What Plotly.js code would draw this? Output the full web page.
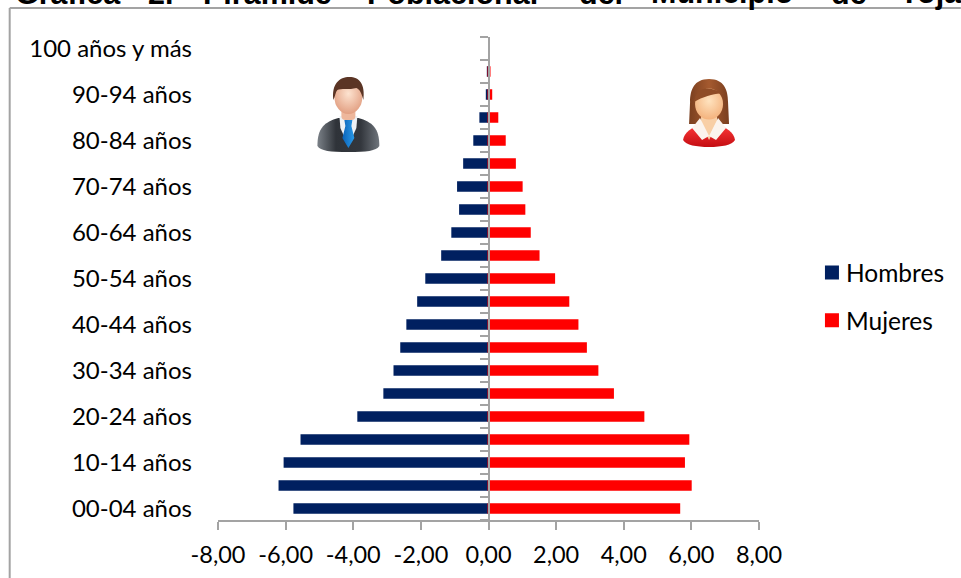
<!DOCTYPE html>
<html><head><meta charset="utf-8">
<script src="https://cdn.plot.ly/plotly-3.0.1.min.js"></script>
<style>html,body{margin:0;padding:0;background:#fff;overflow:hidden}
.legend .legendpoints{transform:translate(6px,0)}</style>
</head><body><div id="chart" style="width:961px;height:578px"></div>
<script>
const ages = ["00-04 años","05-09 años","10-14 años","15-19 años","20-24 años","25-29 años","30-34 años","35-39 años","40-44 años","45-49 años","50-54 años","55-59 años","60-64 años","65-69 años","70-74 años","75-79 años","80-84 años","85-89 años","90-94 años","95-99 años","100 años y más"];
const hombres = [-5.74,-6.18,-6.03,-5.53,-3.85,-3.08,-2.78,-2.58,-2.40,-2.08,-1.84,-1.37,-1.07,-0.84,-0.90,-0.72,-0.42,-0.24,-0.05,-0.02,null];
const mujeres = [5.64,5.98,5.78,5.91,4.58,3.68,3.22,2.88,2.63,2.36,1.94,1.48,1.22,1.06,0.98,0.78,0.48,0.26,0.08,0.03,null];
const yLabels = ["00-04 años","10-14 años","20-24 años","30-34 años","40-44 años","50-54 años","60-64 años","70-74 años","80-84 años","90-94 años","100 años y más"];
const xTickVals = [-8,-6,-4,-2,0,2,4,6,8];
const xTickText = ["-8,00","-6,00","-4,00","-2,00","0,00","2,00","4,00","6,00","8,00"];
const titleWords = ["Gráfica","2.","Pirámide","Poblacional","del","Municipio","de","Yoja"];
const titleLefts = [13,146,201,366,578,650,830,898];

const W=961,H=578,L=217.5,R=759,T=37,B=520;
const px=x=>(x-L)/(R-L), py=y=>(B-y)/(B-T);
const FONT='Lato, Carlito, sans-serif', GRAY='#a3a3a3';

const manSvg=`<svg xmlns="http://www.w3.org/2000/svg" viewBox="0 0 64 77" width="256" height="308"><defs>
<linearGradient id="s" x1="0" x2="1"><stop offset="0" stop-color="#7b8188"/><stop offset=".3" stop-color="#2f3339"/><stop offset=".7" stop-color="#33373d"/><stop offset="1" stop-color="#6f757c"/></linearGradient>
<radialGradient id="f" cx=".5" cy=".4" r=".65"><stop offset="0" stop-color="#fde3d0"/><stop offset="1" stop-color="#e09a7c"/></radialGradient>
<linearGradient id="t" x1="0" x2="1"><stop offset="0" stop-color="#0b63b8"/><stop offset="1" stop-color="#2a9ae8"/></linearGradient></defs>
<path d="M1 70 C1 52 8 46 22 42 L42 42 C56 46 63 52 63 70 C60 75 50 76 32 76 C14 76 4 75 1 70Z" fill="url(#s)"/>
<path d="M23 40 L41 40 L40 52 L32 70 L24 52Z" fill="#eef1f4"/>
<rect x="25" y="30" width="14" height="14" rx="4" fill="#eeb79c"/>
<path d="M28 44 L36 44 L35 50 L38 62 L32 72 L26 62 L29 50Z" fill="url(#t)"/>
<ellipse cx="32" cy="21" rx="14" ry="17" fill="url(#f)"/>
<path d="M17 24 C15 8 23 1 33 1 C43 1 49 8 47 24 C45 17 44 14 40 12 C33 14 24 12 21 14 C19 16 19 20 17 24Z" fill="#5b3525"/></svg>`;
const womanSvg=`<svg xmlns="http://www.w3.org/2000/svg" viewBox="0 0 54 70" width="216" height="280"><defs>
<radialGradient id="f" cx=".5" cy=".4" r=".7"><stop offset="0" stop-color="#ffe3bf"/><stop offset="1" stop-color="#f2ab73"/></radialGradient>
<linearGradient id="r" x1="0" y1="0" x2="0" y2="1"><stop offset="0" stop-color="#ff3a3a"/><stop offset="1" stop-color="#c40d12"/></linearGradient>
<linearGradient id="h" x1="0" x2="1"><stop offset="0" stop-color="#7a3f1f"/><stop offset=".5" stop-color="#a55a2f"/><stop offset="1" stop-color="#7a3f1f"/></linearGradient></defs>
<path d="M27 1 C12 1 8 12 8 24 L7 46 L47 46 L46 24 C46 12 42 1 27 1Z" fill="url(#h)"/>
<path d="M1 62 C2 54 10 50 18 46 L36 46 C44 50 52 54 53 62 C50 67 40 69 27 69 C14 69 4 67 1 62Z" fill="url(#r)"/>
<path d="M19 34 L35 34 L35 46 L27 62 L19 46Z" fill="#f8cfa6"/>
<path d="M18 40 L27 58 L20 62 L10 50Z M36 40 L27 58 L34 62 L44 50Z" fill="#fbf4ee"/>
<ellipse cx="27" cy="26" rx="14" ry="15.5" fill="url(#f)"/>
<path d="M12 24 C14 10 24 6 42 16 C36 14 22 18 12 24Z" fill="#8f4c26"/></svg>`;
const uri=s=>'data:image/svg+xml;charset=utf-8,'+encodeURIComponent(s);

const bar=(name,x,color)=>({type:'bar',orientation:'h',name,x,y:ages,
  marker:{color,line:{color,width:2}},hoverinfo:'skip',legendgroup:name});
const traces=[bar('Hombres',hombres,'#002060'),bar('Mujeres',mujeres,'#ff0000'),
  {type:'scatter',x:[null],y:[null],yaxis:'y2',showlegend:false,hoverinfo:'skip'}];

const layout={
  width:W,height:H,autosize:false,paper_bgcolor:'#fff',plot_bgcolor:'#fff',
  margin:{l:L,r:W-R,t:T,b:H-B,pad:0,autoexpand:false},
  barmode:'overlay',bargap:0.63,separators:',.',
  font:{family:FONT,size:24,color:'#000'},
  xaxis:{range:[-8,8],tickmode:'array',tickvals:xTickVals,ticktext:xTickText,ticks:'outside',ticklen:8,tickwidth:2,tickcolor:GRAY,
    showline:true,linecolor:GRAY,linewidth:2,showgrid:false,zeroline:false,fixedrange:true,ticklabelstandoff:5,tickfont:{family:FONT,size:23.5,color:'#000'}},
  yaxis:{type:'category',categoryorder:'array',categoryarray:ages,range:[-0.5,20.5],tickmode:'array',tickvals:yLabels,ticktext:yLabels,
    ticks:'',showline:false,showgrid:false,zeroline:false,fixedrange:true,ticklabelstandoff:25,tickfont:{family:FONT,size:24,color:'#000'}},
  yaxis2:{overlaying:'y',anchor:'free',position:0.5,side:'left',range:[-0.5,20.5],tickmode:'array',
    tickvals:ages.map((_,i)=>i-0.5).concat([ages.length-0.5]),showticklabels:false,ticks:'outside',ticklen:8,tickwidth:2,tickcolor:GRAY,
    showline:true,linecolor:GRAY,linewidth:2.5,showgrid:false,zeroline:false,fixedrange:true},
  legend:{x:px(806),y:py(250),xanchor:'left',yanchor:'top',traceorder:'grouped',tracegroupgap:13,bgcolor:'rgba(0,0,0,0)',
    itemclick:false,itemdoubleclick:false,font:{family:FONT,size:24.5,color:'#000'}},
  shapes:[
    {type:'line',xref:'paper',yref:'paper',x0:px(9),x1:px(9),y0:py(8),y1:py(578),line:{color:GRAY,width:2}},
    {type:'line',xref:'paper',yref:'paper',x0:px(9),x1:px(961),y0:py(8),y1:py(8),line:{color:GRAY,width:2}}
  ],
  images:[
    {source:uri(manSvg),xref:'paper',yref:'paper',x:px(316),y:py(76),sizex:px(380)-px(316),sizey:py(76)-py(153),xanchor:'left',yanchor:'top',sizing:'stretch',layer:'above'},
    {source:uri(womanSvg),xref:'paper',yref:'paper',x:px(682),y:py(78),sizex:px(736)-px(682),sizey:py(78)-py(148),xanchor:'left',yanchor:'top',sizing:'stretch',layer:'above'}
  ],
  annotations:titleWords.map((w,i)=>({text:w,xref:'paper',yref:'paper',x:px(titleLefts[i]),y:py(11),xanchor:'left',yanchor:'bottom',showarrow:false,borderpad:0,
    font:{family:'Liberation Sans, Arial, sans-serif',size:30.5,color:'#000',weight:700}}))
};
Plotly.newPlot('chart',traces,layout,{displayModeBar:false,staticPlot:true});
</script></body></html>
